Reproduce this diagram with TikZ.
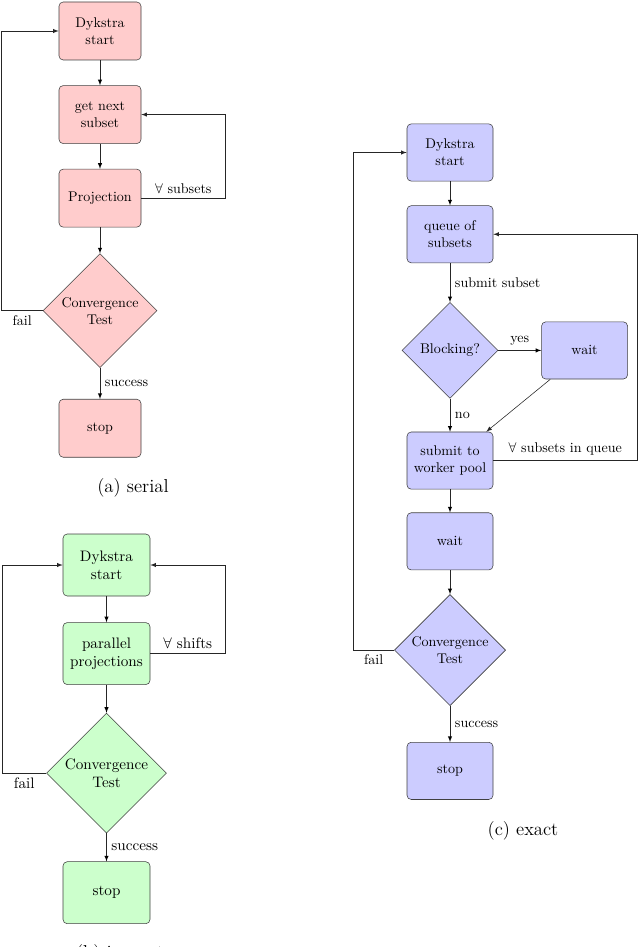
\documentclass[tikz,border=0pt]{standalone}
\usepackage{fontspec}
\usepackage{amssymb}
\usetikzlibrary{shapes.geometric,positioning}
\definecolor{serialfill}{RGB}{255,204,204}
\definecolor{inexactfill}{RGB}{204,255,204}
\definecolor{exactfill}{RGB}{204,204,255}
\tikzset{
  block/.style={rectangle,rounded corners=3pt,draw=black!75,minimum width=2.05cm,minimum height=1.45cm,align=center},
  decision/.style={diamond,aspect=1,draw=black!75,inner sep=0pt,align=center},
  flow/.style={->,>=latex,draw=black!85},
  caption/.style={font=\fontsize{13.3}{16}\selectfont}
}

\begin{document}
\begin{tikzpicture}
  \useasboundingbox (0,0) rectangle (16,-23.675);
  % (a) serial
  \node[block,fill=serialfill] (startA) at (2.5,-0.775) {Dykstra\\start};
  \node[block,fill=serialfill] (nextA) [below=0.625cm of startA] {get next\\subset};
  \node[block,fill=serialfill] (projA) [below=0.625cm of nextA] {Projection};
  \node[decision,fill=serialfill,minimum size=2.85cm] (convA) [below=0.65cm of projA] {Convergence\\Test};
  \node[block,fill=serialfill] (stopA) [below=0.775cm of convA] {stop};
  \path[flow] (startA) edge (nextA);
  \path[flow] (nextA) edge (projA);
  \path[flow] (projA) edge (convA);
  \path[flow] (convA) edge node[right] {success} (stopA);
  % Loop back to the start
  \draw[flow] (projA.east) -- node[above] {$\forall$ subsets} ++(2.1,0) |- (nextA.east);
  \draw[flow] (convA.west) -- node[below] {fail} ++(-1.025,0) |- (startA.west);
  \node[caption] (capA) at (3.325,-12.2) {(a) serial};

  % (b) inexact
  \begin{scope}[font=\fontsize{10.8}{13}\selectfont,block/.append style={minimum width=2.175cm,minimum height=1.55cm}]
    \node[block,fill=inexactfill] (startB) at (2.6625,-14.125) {Dykstra\\start};
    \node[block,fill=inexactfill] (parB) [below=0.65cm of startB] {parallel\\projections};
    \node[decision,fill=inexactfill,minimum size=3.0cm] (convB) [below=0.7cm of parB] {Convergence\\Test};
    \node[block,fill=inexactfill] (stopB) [below=0.7cm of convB] {stop};
    \path[flow] (startB) edge (parB);
    \path[flow] (parB) edge (convB);
    \path[flow] (convB) edge node[right] {success} (stopB);
    % Loop back to the start
    \draw[flow] (parB.east) -- node[above] {$\forall$ shifts} ++(1.875,0) |- (startB.east);
    \draw[flow] (convB.west) -- node[below] {fail} ++(-1.1,0) |- (startB.west);
    \node[caption] (capB) at (3.0,-23.85) {(b) inexact};
  \end{scope}

  % (c) exact
  \begin{scope}[block/.append style={minimum width=2.15cm,minimum height=1.43cm}]
    \node[block,fill=exactfill] (startC) at (11.25,-3.8125) {Dykstra\\start};
    \node[block,fill=exactfill] (queueC) [below=0.6cm of startC] {queue of\\subsets};
    \node[decision,fill=exactfill,minimum size=2.4cm] (blockC) [below=0.975cm of queueC] {Blocking?};
    \node[block,fill=exactfill] (holdC) [right=1.075cm of blockC] {wait};
    \node[block,fill=exactfill] (submitC) [below=0.825cm of blockC] {submit to\\worker pool};
    \node[block,fill=exactfill] (waitC) [below=0.575cm of submitC] {wait};
    \node[decision,fill=exactfill,minimum size=2.78cm] (convC) [below=0.6cm of waitC] {Convergence\\Test};
    \node[block,fill=exactfill] (stopC) [below=0.9cm of convC] {stop};
    \path[flow] (startC) edge (queueC);
    \path[flow] (queueC) edge node[right] {submit subset} (blockC);
    \path[flow] (blockC) edge node[above] {yes} (holdC);
    \path[flow] (blockC) edge node[right] {no} (submitC);
    \draw[flow] ([xshift=0.225cm]holdC.south west) -- ([xshift=-0.175cm]submitC.north east);
    \path[flow] (submitC) edge (waitC);
    \path[flow] (waitC) edge (convC);
    \path[flow] (convC) edge node[right] {success} (stopC);
    % Loop back to the queue and to the start
    \draw[flow] (submitC.east) -- node[above] {$\forall$ subsets in queue} ++(3.6,0) |- (queueC.east);
    \draw[flow] (convC.west) -- node[below] {fail} ++(-1.025,0) |- (startC.west);
    \node[caption] (capC) at (13.075,-20.775) {(c) exact};
  \end{scope}
\end{tikzpicture}
\end{document}
